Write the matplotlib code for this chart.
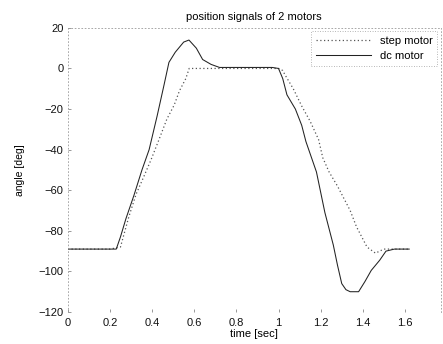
"""
position signals of 2 motors (step vs dc)
"""

import matplotlib
matplotlib.use("Agg")
import matplotlib.pyplot as plt

# dc motor trace
dc_t = [0, 0.10, 0.20, 0.23, 0.25, 0.276, 0.314, 0.352, 0.386, 0.424, 0.457,
        0.48, 0.51, 0.55, 0.575, 0.61, 0.64, 0.68, 0.72, 0.80, 0.90, 0.97,
        1.00, 1.02, 1.04, 1.08, 1.11, 1.13, 1.18, 1.22, 1.26, 1.28, 1.30, 1.32,
        1.34, 1.38, 1.41, 1.44, 1.48, 1.51, 1.55, 1.62]
dc_v = [-89, -89, -89, -89, -83, -74, -62.5, -50, -40, -23.4, -8,
        3, 8, 13, 14, 10, 4.4, 2, 0.5, 0.5, 0.5, 0.5,
        0, -5, -13, -20, -28, -36, -51, -71, -87, -97, -106, -109,
        -110, -110, -105, -99.5, -94.5, -90, -89, -89]

# step motor trace
st_t = [0, 0.10, 0.20, 0.25, 0.29, 0.324, 0.362, 0.395, 0.433, 0.47, 0.505,
        0.53, 0.56, 0.576, 0.70, 0.85, 1.00, 1.02, 1.03, 1.07, 1.11, 1.15,
        1.19, 1.21, 1.24, 1.28, 1.31, 1.34, 1.37, 1.40, 1.42, 1.46, 1.50, 1.55, 1.62]
st_v = [-89, -89, -89, -88, -73, -62, -53, -45, -35, -25, -18,
        -11, -5, 0, 0, 0, 0, -1, -3, -10, -18.5, -26,
        -35, -44, -51, -58, -64, -70, -78, -84, -88, -91, -89, -89, -89]

xticks = [0, 0.2, 0.4, 0.6, 0.8, 1, 1.2, 1.4, 1.6]
xticklabels = ['0', '0.2', '0.4', '0.6', '0.8', '1', '1.2', '1.4', '1.6']
yticks = [20, 0, -20, -40, -60, -80, -100, -120]

plt.rcParams['font.family'] = ['Liberation Sans', 'DejaVu Sans']

fig = plt.figure(figsize=(4.43, 3.44), dpi=100)
ax = fig.add_axes([0.153, 0.093, 0.842, 0.826])

ax.plot(st_t, st_v, color='#555555', linestyle=(0, (1, 2)), linewidth=0.9,
        label='step motor')
ax.plot(dc_t, dc_v, color='#222222', linestyle='-', linewidth=0.75,
        label='dc motor')

ax.set_xlim(0, 1.77)
ax.set_ylim(-120, 20)
ax.set_xticks(xticks)
ax.set_xticklabels(xticklabels)
ax.set_yticks(yticks)
ax.tick_params(direction='in', length=2, width=0.6, colors='#888888',
               labelcolor='#111111', labelsize=8, pad=3)
ax.tick_params(axis='x', pad=4)

for s in ax.spines.values():
    s.set_linestyle((0, (1, 3)))
    s.set_linewidth(0.6)
    s.set_color('#999999')
ax.spines['bottom'].set_visible(False)

ax.set_title('position signals of 2 motors', fontsize=8, pad=6)
ax.set_xlabel('time [sec]', fontsize=8, labelpad=1)
ax.set_ylabel('angle [deg]', fontsize=7.5, labelpad=10)

leg = ax.legend(loc='upper right', fontsize=8, handlelength=5,
                borderaxespad=0.3, fancybox=False)
leg.get_frame().set_linestyle((0, (1, 2)))
leg.get_frame().set_edgecolor('#888888')
leg.get_frame().set_linewidth(0.6)

fig.savefig('out.png', dpi=100)
